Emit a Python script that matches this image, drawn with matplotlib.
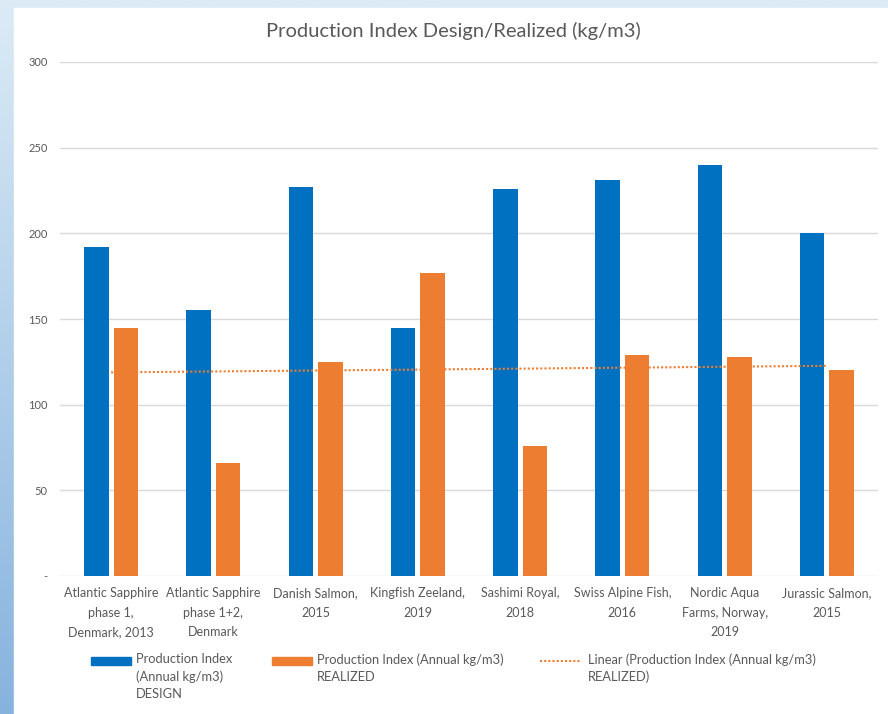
import numpy as np
import matplotlib
matplotlib.use("Agg")
import matplotlib.pyplot as plt
from matplotlib.patches import Rectangle
from matplotlib.lines import Line2D
from matplotlib.colors import LinearSegmentedColormap

categories = ["Atlantic Sapphire\nphase 1,\nDenmark, 2013",
              "Atlantic Sapphire\nphase 1+2,\nDenmark",
              "Danish Salmon,\n2015",
              "Kingfish Zeeland,\n2019",
              "Sashimi Royal,\n2018",
              "Swiss Alpine Fish,\n2016",
              "Nordic Aqua\nFarms, Norway,\n2019",
              "Jurassic Salmon,\n2015"]
design = [192, 155, 227, 145, 226, 231, 240, 200]
realized = [145, 66, 125, 177, 76, 129, 128, 120]
yticks = [0, 50, 100, 150, 200, 250, 300]
ytick_labels = ["-", "50", "100", "150", "200", "250", "300"]
legend_labels = ["Production Index\n(Annual kg/m3)\nDESIGN",
                 "Production Index (Annual kg/m3)\nREALIZED",
                 "Linear (Production Index (Annual kg/m3)\nREALIZED)"]

BLUE = "#0070C0"
ORANGE = "#ED7D31"
GRAY = "#595959"
FONT = ["Lato", "DejaVu Sans"]
plt.rcParams['font.family'] = FONT

W, H = 888, 714
fig = plt.figure(figsize=(W/100, H/100), dpi=100)

# background gradient frame
bg = fig.add_axes([0, 0, 1, 1], zorder=-10)
grad = np.linspace(0, 1, 256).reshape(-1, 1)
cmap = LinearSegmentedColormap.from_list("bgc", ["#dcebf6", "#86b3de"])
bg.imshow(grad, aspect="auto", cmap=cmap, extent=[0, 1, 0, 1], origin="upper")
bg.add_patch(Rectangle((14/W, 0), 1, 1 - 8/H, transform=bg.transAxes, color="white"))
bg.set_xlim(0, 1); bg.set_ylim(0, 1)
bg.axis("off")

left, right, top, bottom = 60, 878, 62, 576
ax = fig.add_axes([left/W, (H-bottom)/H, (right-left)/W, (bottom-top)/H])
ax.set_facecolor("none")
x = np.arange(len(categories))
bw = 0.24
off = 0.145
ax.bar(x - off, design, bw, color=BLUE, zorder=3)
ax.bar(x + off, realized, bw, color=ORANGE, zorder=3)
coef = np.polyfit(x, realized, 1)
ax.plot(x, np.polyval(coef, x), linestyle=(0, (1, 1)), color=ORANGE, lw=1.5, zorder=4)

ax.set_xlim(-0.5, len(categories) - 0.5)
ax.set_ylim(0, 300)
ax.set_yticks(yticks)
ax.set_yticklabels(ytick_labels, color=GRAY, fontsize=8)
ax.yaxis.grid(True, color="#D9D9D9", lw=1)
ax.set_axisbelow(True)
for s in ax.spines.values():
    s.set_visible(False)
ax.tick_params(axis="both", length=0)
ax.tick_params(axis="y", pad=9)
ax.set_xticks(x)
ax.set_xticklabels(categories, color=GRAY, fontsize=9, linespacing=1.75)
ax.tick_params(axis="x", pad=8)

fig.text(453/W, 1 - 31/H, "Production Index Design/Realized (kg/m3)",
         ha="center", va="center", fontsize=14.5, color=GRAY)

# legend (manual)
ly = 661
def fy(p):
    return 1 - p/H
fig.add_artist(Rectangle((91/W, fy(ly + 4)), 40/W, 8/H, color=BLUE, transform=fig.transFigure))
fig.add_artist(Rectangle((272/W, fy(ly + 4)), 40/W, 8/H, color=ORANGE, transform=fig.transFigure))
fig.add_artist(Line2D([540/W, 580/W], [fy(ly), fy(ly)], color=ORANGE, lw=1.5,
                      linestyle=(0, (1, 1)), transform=fig.transFigure))
for xx, lab in zip([136, 317, 588], legend_labels):
    fig.text(xx/W, fy(ly - 8), lab, ha="left", va="top", fontsize=9.3,
             color=GRAY, linespacing=1.5)

fig.savefig("out.png", dpi=100)
